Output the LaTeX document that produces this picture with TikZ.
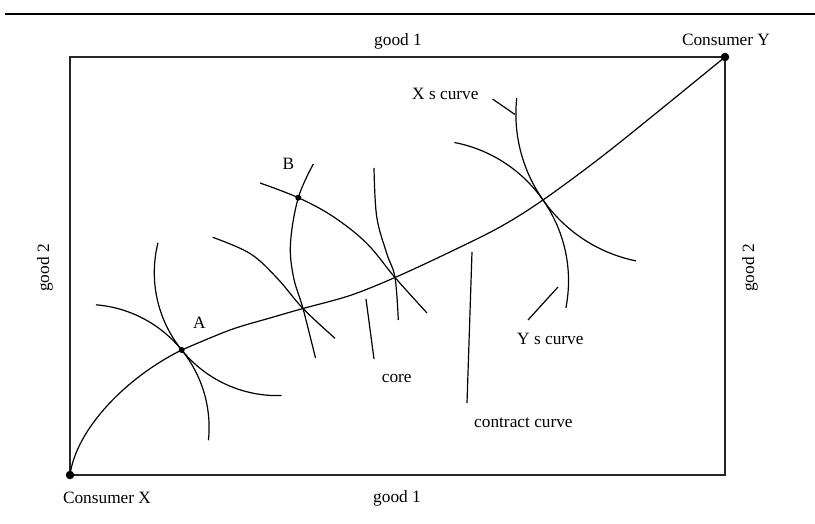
\documentclass[tikz,border=0pt]{standalone}
\usepackage{fontspec}
\setmainfont{Liberation Serif}
\begin{document}
\begin{tikzpicture}[x=1pt,y=-1pt,
  lbl/.style={font=\fontsize{17.3}{20}\selectfont, inner sep=0pt, anchor=base},
  vlbl/.style={font=\fontsize{17.3}{20}\selectfont, inner sep=0pt, rotate=90},
  frame/.style={line width=1.4pt, draw=black!85},
  toprule/.style={line width=1.6pt},
  icurve/.style={line width=1.2pt},
  ccurve/.style={line width=1.2pt},
  pointer/.style={line width=1.2pt},
  bigdot/.style={circle, fill=black, inner sep=0pt, minimum size=8.5pt},
  smalldot/.style={circle, fill=black, inner sep=0pt, minimum size=6pt}]
\useasboundingbox (0,0) rectangle (815,524);
% top rule
\coordinate (r0) at (5,14);
\coordinate (r1) at (815,14);
\draw[toprule] (r0) -- (r1);
% key points
\coordinate (O) at (70,475);
\coordinate (Yc) at (725,57);
\coordinate (A) at (181.7,350);
\coordinate (B) at (298.3,197.7);
\coordinate (P2) at (303,308.5);
\coordinate (P3) at (395,277.5);
\coordinate (P4) at (543,200);
% Edgeworth box
\draw[frame] (O) rectangle (Yc);
% contract curve
\draw[ccurve] (O) .. controls (76,430) and (125,378) .. (A);
\draw[ccurve] plot[smooth, tension=0.55] coordinates {(A) (230,330) (270,318) (P2) (350,295.5) (P3) (450,252) (500,227) (P4) (600,158) (660,110) (Yc)};
% indifference curves through A
\coordinate (cY1) at (86.1,427.4);
\coordinate (cX1) at (277.3,272.6);
\draw[icurve] (cY1) ++(-85.4:123) arc[start angle=-85.4, end angle=6, radius=123];
\draw[icurve] (cX1) ++(194:123) arc[start angle=194, end angle=88, radius=123];
% curves through B and the core
\draw[icurve] plot[smooth, tension=0.6] coordinates {(313.3,164) (B) (290.5,243) (293.5,277) (P2) (315.5,358)};
\draw[icurve] plot[smooth, tension=0.6] coordinates {(212.7,237.3) (250,253.5) (277,278) (P2) (335,338.3)};
\draw[icurve] plot[smooth, tension=0.6] coordinates {(260,183) (B) (333.3,216.7) (366.7,243.3) (P3) (427,313)};
\draw[icurve] plot[smooth, tension=0.6] coordinates {(374,168) (376.7,216.7) (386.7,253.3) (P3) (398.3,320)};
% indifference curves at the right
\coordinate (cY3) at (427.5,280.9);
\coordinate (cX3) at (665.9,113.9);
\draw[icurve] (cY3) ++(-79:141) arc[start angle=-79, end angle=11, radius=141];
\draw[icurve] (cX3) ++(186:150) arc[start angle=186, end angle=101.5, radius=150];
% dots
\node[bigdot] (dO) at (O) {};
\node[bigdot] (dY) at (Yc) {};
\node[smalldot] (dA) at (A) {};
\node[smalldot] (dB) at (B) {};
% labels
\node[lbl] (lCY) at (726,45.5) {Consumer Y};
\node[lbl] (lg1t) at (398,46) {good 1};
\node[lbl] (lg1b) at (397,502) {good 1};
\node[lbl] (lCX) at (107,503) {Consumer X};
\node[vlbl] (lg2l) at (45,268) {good 2};
\node[vlbl] (lg2r) at (750,268) {good 2};
\node[lbl] (lA) at (199.3,328) {A};
\node[lbl] (lB) at (288.3,170) {B};
\node[lbl, anchor=base west] (lXs) at (412,100) {X s curve};
\node[lbl, anchor=base west] (lYs) at (517,344) {Y s curve};
\node[lbl, anchor=base west] (lcore) at (381.7,382.7) {core};
\node[lbl, anchor=base west] (lcc) at (474,427.7) {contract curve};
% pointers
\coordinate (xp1) at (492.5,99);
\coordinate (xp2) at (515,114.5);
\coordinate (yp1) at (528,320);
\coordinate (yp2) at (558,287);
\coordinate (kp1) at (366,299);
\coordinate (kp2) at (374,359);
\coordinate (cp1) at (472,252);
\coordinate (cp2) at (467,403);
\draw[pointer] (xp1) -- (xp2);
\draw[pointer] (yp1) -- (yp2);
\draw[pointer] (kp1) -- (kp2);
\draw[pointer] (cp1) -- (cp2);
\end{tikzpicture}
\end{document}
